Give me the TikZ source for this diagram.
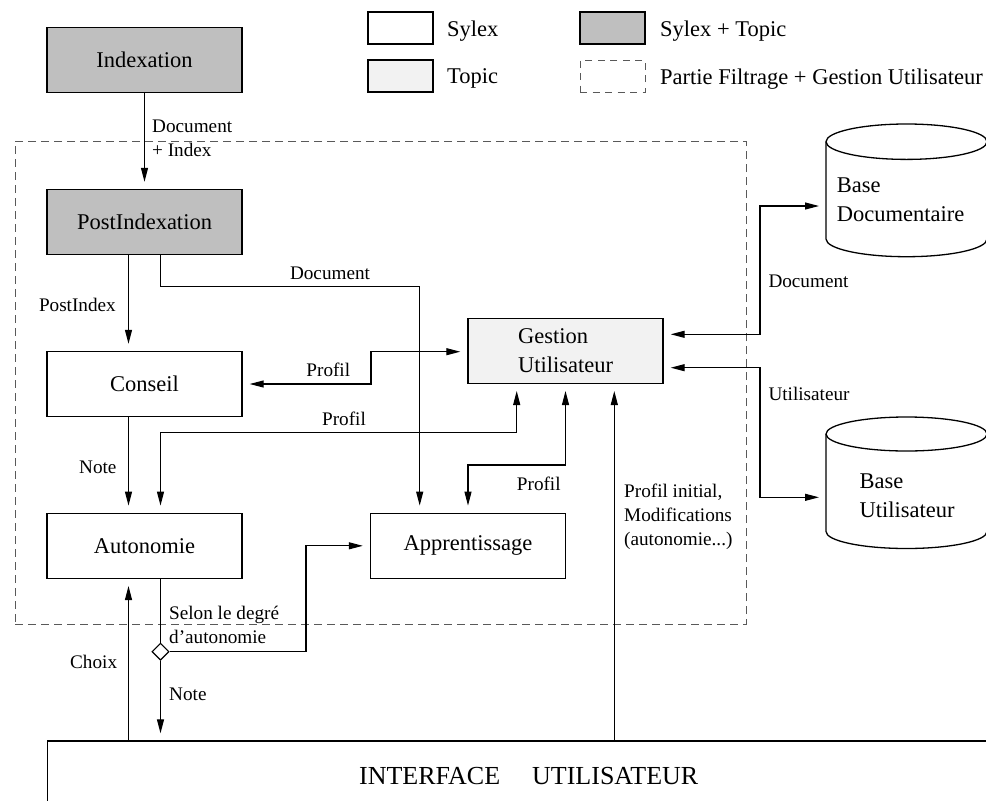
\documentclass[tikz,border=0pt]{standalone}
\usepackage{fontspec}
\setmainfont{Liberation Serif}
\usetikzlibrary{arrows.meta,shapes.geometric}

\definecolor{gris}{gray}{0.75}
\definecolor{grisclair}{gray}{0.95}

\tikzset{
  boite/.style={draw,line width=1.4pt,minimum width=195pt,minimum height=65pt,inner sep=0pt,font=\fontsize{22.5}{29}\selectfont},
  legende/.style={draw,line width=1.4pt,minimum width=65pt,minimum height=32pt},
  tirets/.style={draw=black!65,line width=1pt,dash pattern=on 8pt off 5pt},
  grand/.style={font=\fontsize{22.5}{29}\selectfont,inner sep=0pt},
  petit/.style={font=\fontsize{19.2}{24}\selectfont,inner sep=0pt},
  trait/.style={line width=1.1pt},
  fleche/.style={trait,-{Triangle[length=14pt,width=7pt]},shorten >=7pt},
  fleches/.style={trait,{Triangle[length=14pt,width=7pt]}-{Triangle[length=14pt,width=7pt]},shorten >=7pt,shorten <=7pt},
}

\begin{document}
\begin{tikzpicture}[x=1pt,y=-1pt]
\useasboundingbox (0,0) rectangle (986,801);
\clip (0,0) rectangle (986,801);

\node[legende] (lsylex) at (400.5,28) {};
\node[legende,fill=grisclair] (ltopic) at (400.5,76) {};
\node[legende,fill=gris] (lsyltop) at (612.5,28) {};
\node[legende,tirets,dash pattern=on 7pt off 5.5pt] (lpartie) at (612.5,76) {};
\node[grand,anchor=base west] (tsylex) at (447,36) {Sylex};
\node[grand,anchor=base west] (ttopic) at (447,83.3) {Topic};
\node[grand,anchor=base west] (tsyltop) at (660,36) {Sylex + Topic};
\node[grand,anchor=base west] (tpartie) at (660,84) {Partie Filtrage + Gestion Utilisateur};

\node[tirets,minimum width=731pt,minimum height=483pt] (partie) at (380.5,382.5) {};

\node[boite,fill=gris] (idx) at (144.5,59.8) {Indexation};
\node[boite,fill=gris] (post) at (144.5,222) {PostIndexation};
\node[boite] (cons) at (144.5,384) {Conseil};
\node[boite] (auto) at (144.5,545.8) {Autonomie};
\node[boite] (app) at (468,545.8) {Apprentissage};
\node[boite,fill=grisclair,align=left] (gest) at (565.5,350.8) {Gestion\\Utilisateur};
\node[boite,anchor=north west,text width=962pt,align=center,inner xsep=0pt,inner ysep=20pt,text height=23pt,text depth=10pt,font=\fontsize{26}{31}\selectfont] (interf) at (47,740.3) {INTERFACE\hspace{32pt}UTILISATEUR};

\draw[line width=1.3pt] (906.5,141.7) ellipse[x radius=80.5,y radius=17.7];
\draw[line width=1.3pt] (826,141.7) -- (826,239) arc[start angle=180,end angle=0,x radius=80.5,y radius=17.7] -- (987,141.7);
\node[grand,align=left,anchor=west] (bdoc) at (836.7,199.7) {Base\\Documentaire};
\draw[line width=1.3pt] (906.5,434) ellipse[x radius=80.5,y radius=17];
\draw[line width=1.3pt] (826,434) -- (826,531.5) arc[start angle=180,end angle=0,x radius=80.5,y radius=17] -- (987,434);
\node[grand,align=left,anchor=west] (butil) at (859.3,496.1) {Base\\Utilisateur};
\coordinate (cdoc) at (826,206);
\coordinate (cutil) at (826,497.3);

\draw[fleche] (idx) -- (post);
\node[petit,anchor=west,align=left] (lidx) at (152,138.5) {Document\\+ Index};

\draw[fleche] ([xshift=-16pt]post.south) -- ([xshift=-16pt]cons.north);
\node[petit,anchor=base east] (lpost) at (116,311.7) {PostIndex};

\coordinate (kdoc) at (419.7,286.7);
\draw[fleche] ([xshift=16pt]post.south) |- (kdoc) -- (kdoc |- app.north);
\node[petit,anchor=base] (ldoc) at (330,279.5) {Document};

\coordinate (kcons) at (371,351.7);
\draw[fleches] (cons.east) -| (kcons) -- (kcons -| gest.west);
\node[petit,anchor=base] (lcons) at (328.3,376.7) {Profil};

\coordinate (kauto) at (344,432.7);
\draw[fleches] ([xshift=16pt]auto.north) |- (kauto) -| ([xshift=-48.8pt]gest.south);
\node[petit,anchor=base] (lauto) at (344,425.7) {Profil};

\coordinate (kapp) at (520,465);
\draw[fleches] (app.north) |- (kapp) -| (gest.south);
\node[petit,anchor=base] (lapp) at (538.8,490) {Profil};

\coordinate (ginit) at ([xshift=48.8pt]gest.south);
\draw[fleche] (ginit |- interf.north) -- (ginit);
\node[petit,anchor=west,align=left] (linit) at (624,516.7) {Profil initial,\\Modifications\\(autonomie...)};

\coordinate (vdoc) at (760,206);
\draw[fleches] ([yshift=16.5pt]gest.east) -| (vdoc) -- (cdoc);
\node[petit,anchor=base west] (ldocb) at (768.3,287.3) {Document};

\coordinate (vutil) at (760,497.3);
\draw[fleches] ([yshift=-16.9pt]gest.east) -| (vutil) -- (cutil);
\node[petit,anchor=base west] (lutil) at (768.3,400.7) {Utilisateur};

\draw[fleche] ([xshift=-16pt]cons.south) -- ([xshift=-16pt]auto.north);
\node[petit,anchor=base east] (lnote) at (116.7,473.3) {Note};

\node[draw,diamond,fill=white,trait,minimum size=17pt,inner sep=0pt] (los) at (160.5,651.7) {};
\draw[trait] ([xshift=16pt]auto.south) -- (los.north);
\draw[fleche] (los.south) -- (los.south |- interf.north);
\node[petit,anchor=base west] (lnote2) at (169,700) {Note};
\coordinate (klos) at (306,545.8);
\draw[fleche] (los.east) -| (klos) -- (app.west);
\node[petit,anchor=west,align=left] (lselon) at (169,624.8) {Selon le degré\\d'autonomie};

\coordinate (gchoix) at ([xshift=-16pt]auto.south);
\draw[fleche] (gchoix |- interf.north) -- (gchoix);
\node[petit,anchor=base east] (lchoix) at (117.3,668.3) {Choix};
\end{tikzpicture}
\end{document}
